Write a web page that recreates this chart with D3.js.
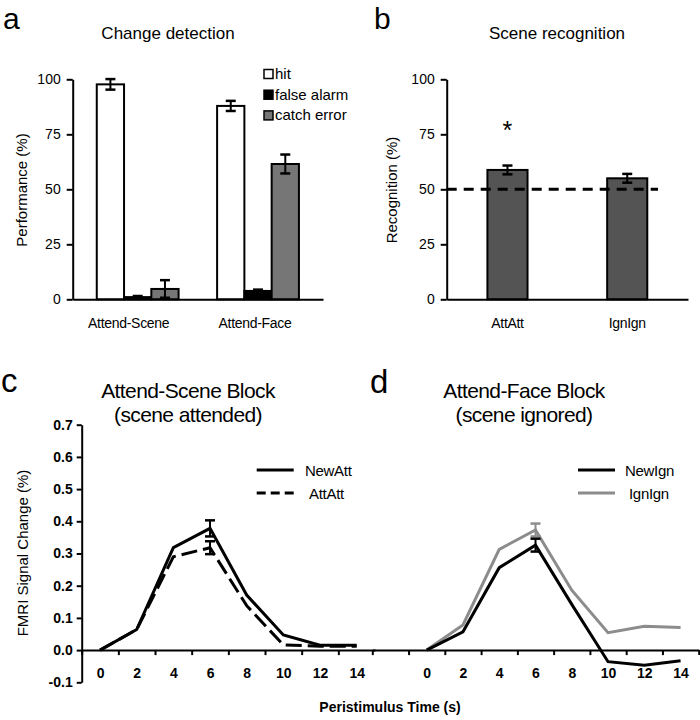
<!DOCTYPE html>
<html>
<head>
<meta charset="utf-8">
<script src="https://cdn.jsdelivr.net/npm/d3@7"></script>
<style>
  body { margin: 0; background: #fff; }
  svg { display: block; font-family: "Liberation Sans", Arial, sans-serif; }
</style>
</head>
<body>
<div id="chart"></div>
<script>
// panel a - change detection
const detectGroups = ["Attend-Scene", "Attend-Face"];
const detectKeys = ["hit", "false alarm", "catch error"];
const detectValues = [
  [97.7, 1.0, 4.7],
  [87.9, 3.8, 61.5],
];
const detectErrors = [
  [2.4, 0.5, 4.0],
  [2.3, 0.6, 4.3],
];
const percentTicks = [0, 25, 50, 75, 100];

// panel b - scene recognition
const recogGroups = ["AttAtt", "IgnIgn"];
const recogValues = [58.8, 55.0];
const recogErrors = [2.0, 2.0];
const chanceLevel = 50;

// panels c, d - time courses
const timePoints = [0, 2, 4, 6, 8, 10, 12, 14];
const newAtt = [0.0, 0.064, 0.318, 0.378, 0.171, 0.047, 0.015, 0.015];
const attAtt = [0.0, 0.064, 0.29, 0.318, 0.138, 0.016, 0.012, 0.012];
const newIgn = [0.0, 0.057, 0.256, 0.326, 0.142, -0.036, -0.047, -0.033];
const ignIgn = [0.0, 0.078, 0.313, 0.373, 0.186, 0.054, 0.074, 0.07];
// error bars only drawn at the peak
const newAttErr = [0, 0, 0, 0.025, 0, 0, 0, 0];
const attAttErr = [0, 0, 0, 0.02, 0, 0, 0, 0];
const newIgnErr = [0, 0, 0, 0.02, 0, 0, 0, 0];
const ignIgnErr = [0, 0, 0, 0.02, 0, 0, 0, 0];
const signalTicks = [-0.1, 0, 0.1, 0.2, 0.3, 0.4, 0.5, 0.6, 0.7];
const oddTicks = [-3, -1, 1, 3, 5, 7, 9, 11, 13, 15];

const DETECT_FILL = { hit: "#ffffff", "false alarm": "#000000", "catch error": "#767676" };
const GREY_LINE = "#8c8c8c";

const svg = d3
  .select("#chart")
  .append("svg")
  .attr("width", 700)
  .attr("height", 720);

function styleAxis(g, size, weight, spacing) {
  g.selectAll("path.domain").attr("stroke", "#000").attr("stroke-width", 2);
  g.selectAll(".tick line").attr("stroke", "#000").attr("stroke-width", 2);
  g.selectAll("text")
    .attr("fill", "#000")
    .attr("font-size", (size || 14) + "px")
    .attr("font-weight", weight || "normal")
    .attr("letter-spacing", spacing || 0)
    .attr("font-family", "Liberation Sans, Arial, sans-serif");
}

function addText(x, y, txt, size, opts) {
  opts = opts || {};
  return svg
    .append("text")
    .attr("x", x)
    .attr("y", y)
    .attr("text-anchor", opts.anchor || "middle")
    .attr("font-size", size + "px")
    .attr("font-weight", opts.weight || "normal")
    .attr("letter-spacing", opts.spacing || 0)
    .attr("transform", opts.rotate ? `rotate(-90, ${x}, ${y})` : null)
    .text(txt);
}

function errorBar(g, cx, y0, y1, color) {
  g.append("line").attr("x1", cx).attr("x2", cx).attr("y1", y0).attr("y2", y1)
    .attr("stroke", color).attr("stroke-width", 2);
  [y0, y1].forEach((yy) =>
    g.append("line").attr("x1", cx - 5).attr("x2", cx + 5).attr("y1", yy).attr("y2", yy)
      .attr("stroke", color).attr("stroke-width", 2.5)
  );
}

//1. PANEL A

const yA = d3.scaleLinear().domain([0, 100]).range([299.3, 79.3]);
const xA = d3.scaleBand().domain(detectGroups).range([72.7, 323]).paddingInner(0.32).paddingOuter(0.2);
const xAin = d3.scaleBand().domain(detectKeys).range([0, xA.bandwidth()]);

const barsA = svg.append("g");
detectGroups.forEach((grp, gi) => {
  detectKeys.forEach((k, ki) => {
    const v = detectValues[gi][ki];
    const e = detectErrors[gi][ki];
    const bx = xA(grp) + xAin(k);
    barsA.append("rect")
      .attr("x", bx)
      .attr("y", yA(v))
      .attr("width", xAin.bandwidth())
      .attr("height", yA(0) - yA(v))
      .attr("fill", DETECT_FILL[k])
      .attr("stroke", "#000")
      .attr("stroke-width", 2);
    errorBar(barsA, bx + xAin.bandwidth() / 2, yA(v + e), yA(v - e), "#000");
  });
});

svg.append("g")
  .attr("transform", "translate(72.7,0)")
  .call(d3.axisLeft(yA).tickValues(percentTicks).tickSize(6).tickSizeOuter(0).tickPadding(6))
  .call((g) => styleAxis(g, 14));

svg.append("g")
  .attr("transform", `translate(0,${yA(0)})`)
  .call(d3.axisBottom(xA).tickSize(0).tickSizeOuter(0).tickPadding(19))
  .call((g) => styleAxis(g, 14, "normal", -0.3))
  .call((g) => g.selectAll(".tick text").attr("dx", (d, i) => (i === 0 ? -9 : -3)));

const legendA = svg.append("g").attr("transform", "translate(264, 74)");
detectKeys.forEach((k, i) => {
  legendA.append("rect")
    .attr("x", 0).attr("y", i * 20.7 - 4.5)
    .attr("width", 9).attr("height", 9)
    .attr("fill", DETECT_FILL[k]).attr("stroke", "#000").attr("stroke-width", 1.5);
  legendA.append("text")
    .attr("x", 11).attr("y", i * 20.7 + 5)
    .attr("font-size", "15px")
    .text(k);
});

addText(168, 39, "Change detection", 17);
addText(27, 190, "Performance (%)", 15, { rotate: true });
addText(3, 29, "a", 30, { anchor: "start" });

//2. PANEL B

const yB = d3.scaleLinear().domain([0, 100]).range([299.3, 79.3]);
const xB = d3.scaleBand().domain(recogGroups).range([446.7, 688]).paddingInner(0.665).paddingOuter(0.34);

const barsB = svg.append("g");
recogGroups.forEach((grp, i) => {
  barsB.append("rect")
    .attr("x", xB(grp))
    .attr("y", yB(recogValues[i]))
    .attr("width", xB.bandwidth())
    .attr("height", yB(0) - yB(recogValues[i]))
    .attr("fill", "#545454")
    .attr("stroke", "#000")
    .attr("stroke-width", 2);
  errorBar(barsB, xB(grp) + xB.bandwidth() / 2,
    yB(recogValues[i] + recogErrors[i]), yB(recogValues[i] - recogErrors[i]), "#000");
});

svg.append("line")
  .attr("x1", 446.7).attr("x2", 658)
  .attr("y1", yB(chanceLevel)).attr("y2", yB(chanceLevel))
  .attr("stroke", "#000").attr("stroke-width", 3)
  .attr("stroke-dasharray", "10,7");

svg.append("g")
  .attr("transform", "translate(446.7,0)")
  .call(d3.axisLeft(yB).tickValues(percentTicks).tickSize(6).tickSizeOuter(0).tickPadding(6))
  .call((g) => styleAxis(g, 14));

svg.append("g")
  .attr("transform", `translate(0,${yB(0)})`)
  .call(d3.axisBottom(xB).tickSize(0).tickSizeOuter(0).tickPadding(19))
  .call((g) => styleAxis(g, 14, "normal", -0.3));

addText(xB("AttAtt") + xB.bandwidth() / 2, 139, "*", 25);
addText(557, 39, "Scene recognition", 17);
addText(397, 190, "Recognition (%)", 15, { rotate: true });
addText(374, 29, "b", 30, { anchor: "start" });

//3. PANELS C + D (time courses)

const yT = d3.scaleLinear().domain([-0.1, 0.7]).range([682.3, 424.7]);
const xC = d3.scaleLinear().domain([-1, 15]).range([81.7, 375]);
const xD = d3.scaleLinear().domain([-3, 15]).range([372.3, 698.7]);

function drawTimeAxis(x, ticks) {
  svg.append("g")
    .attr("transform", `translate(0,${yT(0)})`)
    .call(d3.axisBottom(x).tickValues(ticks).tickSize(5).tickSizeOuter(0).tickFormat(""))
    .call((g) => styleAxis(g));
  svg.append("g")
    .attr("transform", `translate(0,${yT(0)})`)
    .call(d3.axisBottom(x).tickValues(timePoints).tickSize(0).tickPadding(18))
    .call((g) => styleAxis(g, 14, "bold"))
    .call((g) => g.select("path.domain").remove());
}

function drawCurve(x, vals, errs, color, dash) {
  const pts = timePoints.map((t, i) => [t, vals[i], errs[i]]);
  svg.append("path")
    .datum(pts)
    .attr("fill", "none")
    .attr("stroke", color)
    .attr("stroke-width", 3)
    .attr("stroke-dasharray", dash || null)
    .attr("d", d3.line().x((d) => x(d[0])).y((d) => yT(d[1])));
  const g = svg.append("g");
  pts.filter((d) => d[2] > 0).forEach((d) =>
    errorBar(g, x(d[0]), yT(d[1] + d[2]), yT(d[1] - d[2]), color)
  );
}

function legendRow(x0, y, color, dash, label, tx) {
  svg.append("line")
    .attr("x1", x0).attr("x2", x0 + 37).attr("y1", y).attr("y2", y)
    .attr("stroke", color).attr("stroke-width", 3)
    .attr("stroke-dasharray", dash || null);
  svg.append("text")
    .attr("x", tx).attr("y", y + 5.5)
    .attr("font-size", "15px")
    .attr("letter-spacing", -0.3)
    .text(label);
}

drawTimeAxis(xC, oddTicks.filter((t) => t >= -1 && t < 15));
drawTimeAxis(xD, oddTicks);

svg.append("g")
  .attr("transform", "translate(81.7,0)")
  .call(d3.axisLeft(yT).tickValues(signalTicks).tickSize(5).tickSizeOuter(0).tickPadding(4)
    .tickFormat((d) => d.toFixed(1)))
  .call((g) => styleAxis(g, 14, "bold"));

drawCurve(xC, attAtt, attAttErr, "#000", "16,6");
drawCurve(xC, newAtt, newAttErr, "#000");
drawCurve(xD, ignIgn, ignIgnErr, GREY_LINE);
drawCurve(xD, newIgn, newIgnErr, "#000");

legendRow(256.7, 470, "#000", null, "NewAtt", 305);
legendRow(256.7, 493, "#000", "9,5", "AttAtt", 309);
legendRow(578, 470, "#000", null, "NewIgn", 625);
legendRow(578, 493, GREY_LINE, null, "IgnIgn", 629);

addText(188, 398, "Attend-Scene Block", 21, { spacing: -0.6 });
addText(188, 422, "(scene attended)", 21, { spacing: -0.6 });
addText(524, 398, "Attend-Face Block", 21, { spacing: -0.6 });
addText(524, 422, "(scene ignored)", 21, { spacing: -0.6 });
addText(28, 553, "FMRI Signal Change (%)", 15, { rotate: true });
addText(390, 712, "Peristimulus Time (s)", 14, { weight: "bold" });
addText(1, 392, "c", 33, { anchor: "start" });
addText(370, 393, "d", 33, { anchor: "start" });
</script>
</body>
</html>
